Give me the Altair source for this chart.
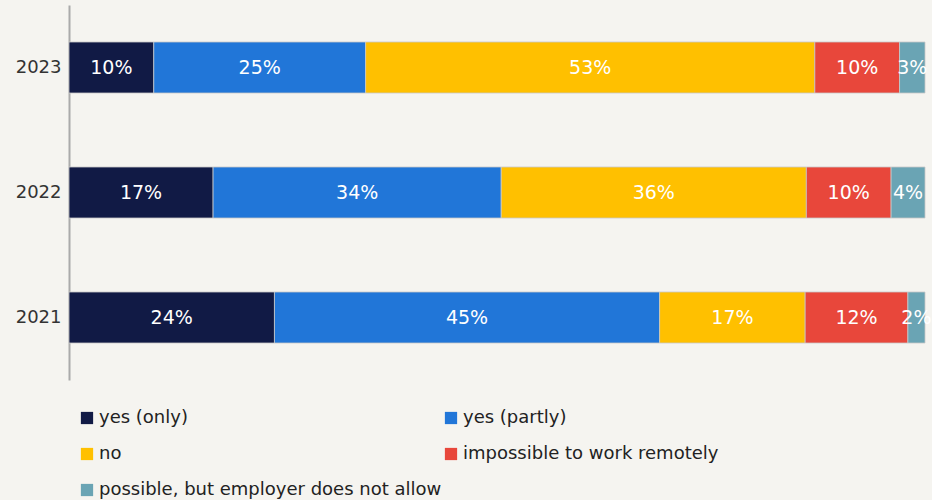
import altair as alt
import pandas as pd

years = ["2023", "2022", "2021"]
categories = ["yes (only)", "yes (partly)", "no", "impossible to work remotely",
              "possible, but employer does not allow"]
colors = ["#111a45", "#2176d8", "#ffc000", "#e8473b", "#6aa4b4"]
values = {
    "2023": [10, 25, 53, 10, 3],
    "2022": [17, 34, 36, 10, 4],
    "2021": [24, 45, 17, 12, 2],
}

rows = []
for y in years:
    for i, c in enumerate(categories):
        rows.append({"year": y, "category": c, "order": i, "value": values[y][i]})
df = pd.DataFrame(rows)

# legend is filled column by column: reorder so it reads row by row
legend_idx = [0, 2, 4, 1, 3]
legend_domain = [categories[i] for i in legend_idx]
legend_range = [colors[i] for i in legend_idx]

FONT = "DejaVu Sans"

base = alt.Chart(df).transform_stack(
    stack="value", groupby=["year"], as_=["x0", "x1"],
    offset="normalize", sort=[alt.SortField("order", order="ascending")]
).transform_calculate(
    mid="(datum.x0 + datum.x1) / 2",
    label="datum.value + '%'"
)

yenc = alt.Y("year:N", sort=years, title=None,
             scale=alt.Scale(paddingInner=0.592, paddingOuter=0.296),
             axis=alt.Axis(domainColor="#aaaaaa", domainWidth=2, ticks=False,
                           labelFont=FONT, labelFontSize=18, labelColor="#333333",
                           labelPadding=8, grid=False))

bars = base.mark_bar(stroke="#c8c8c8", strokeWidth=0.8).encode(
    x=alt.X("x0:Q", axis=None, scale=alt.Scale(domain=[0, 1], nice=False)),
    x2="x1:Q",
    y=yenc,
    color=alt.Color("category:N",
                    scale=alt.Scale(domain=legend_domain, range=legend_range),
                    legend=alt.Legend(title=None, orient="none", columns=2,
                                      legendX=9, legendY=404,
                                      symbolType="square", symbolSize=150,
                                      symbolStrokeWidth=0,
                                      labelFont=FONT, labelFontSize=18,
                                      labelColor="#222222", labelOffset=3,
                                      rowPadding=18, columnPadding=0,
                                      labelLimit=500)),
)

texts = base.mark_text(color="white", font=FONT, fontSize=19, align="center",
                       baseline="middle").encode(
    x=alt.X("mid:Q", scale=alt.Scale(domain=[0, 1], nice=False)),
    y=alt.Y("year:N", sort=years),
    text="label:N",
)

chart = alt.layer(bars, texts).properties(
    width=856, height=375,
    background="#f5f4f0",
    padding={"left": 69, "top": 5, "right": 7, "bottom": 120},
    autosize=alt.AutoSizeParams(type="none"),
).configure_view(stroke=None)

chart.save("out.html", embed_options={"renderer": "svg", "actions": False})
